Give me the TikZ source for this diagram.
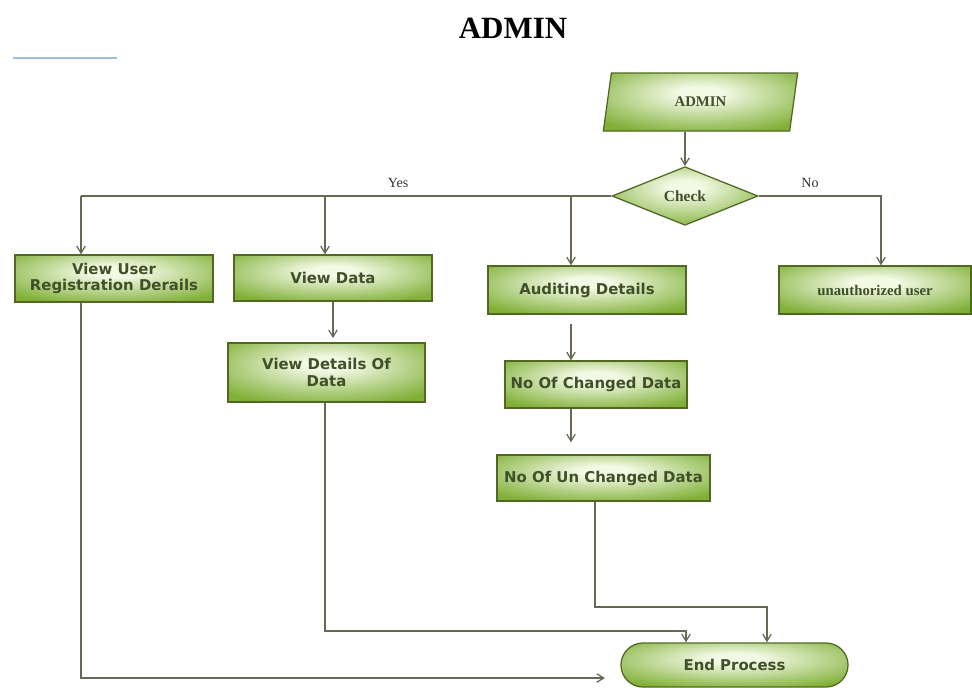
\documentclass[tikz,border=0pt]{standalone}
\usepackage{fontspec}
\setmainfont{Liberation Serif}
\newfontfamily\boxfont{DejaVu Sans}
\usetikzlibrary{shapes.geometric,arrows.meta}

\definecolor{glowin}{RGB}{242,249,228}
\definecolor{glowout}{RGB}{128,176,56}
\definecolor{boxline}{RGB}{82,104,34}
\definecolor{boxtext}{RGB}{64,80,40}
\definecolor{flowline}{RGB}{104,104,84}
\definecolor{topline}{RGB}{160,190,215}

\pgfdeclareradialshading{glow}{\pgfpoint{0bp}{8bp}}{color(0bp)=(glowin); color(6bp)=(glowin); color(34bp)=(glowout); color(100bp)=(glowout)}

\tikzset{
  flowbox/.style={rectangle,draw=boxline,line width=0.9pt,shading=glow,text=boxtext,
    font=\boxfont\bfseries\fontsize{10.6}{11.5}\selectfont,align=center,inner sep=1pt},
  serifbox/.style={font=\bfseries\fontsize{10.5}{12}\selectfont},
  flowlabel/.style={font=\fontsize{10}{12}\selectfont,text=black!80},
  flowjoin/.style={draw=flowline,line width=0.9pt},
  flowarrow/.style={flowjoin,-{Straight Barb[length=5pt,width=6pt]}}
}

\begin{document}
\begin{tikzpicture}[x=0.025cm,y=-0.025cm]
\useasboundingbox (0,0) rectangle (972,687);
% heading
\node[font=\bfseries\fontsize{22}{26}\selectfont](title)at(513,28){ADMIN};
\draw[topline,line width=0.8pt](13,58)--(117,58);

% start and decision
\node[flowbox,serifbox,shape=trapezium,trapezium left angle=79,trapezium right angle=101,
  trapezium stretches=true,minimum width=4.875cm,minimum height=1.45cm](admin)at(700.5,102){ADMIN};
\node[flowbox,serifbox,shape=diamond,minimum width=3.65cm,minimum height=1.4cm,
  font=\bfseries\fontsize{11}{12}\selectfont](check)at(685,196){Check};

% process boxes
\node[flowbox,minimum width=4.95cm,minimum height=1.175cm](reg)at(114,278.5){View User\\Registration Derails};
\node[flowbox,minimum width=4.95cm,minimum height=1.15cm](vdata)at(333,278){View Data};
\node[flowbox,minimum width=4.925cm,minimum height=1.475cm](details)at(326.5,372.5){View Details Of\\Data};
\node[flowbox,minimum width=4.95cm,minimum height=1.2cm](audit)at(587,290){Auditing Details};
\node[flowbox,serifbox,minimum width=4.8cm,minimum height=1.2cm](unauth)at(875,290){unauthorized user};
\node[flowbox,minimum width=4.55cm,minimum height=1.175cm](changed)at(596,384.5){No Of Changed Data};
\node[flowbox,minimum width=5.325cm,minimum height=1.15cm](unchanged)at(603.5,478){No Of Un Changed Data};
\node[flowbox,rounded corners=0.55cm,minimum width=5.675cm,minimum height=1.1cm](end)at(734.5,665){End Process};

% branch labels
\node[flowlabel](yes)at(398,183){Yes};
\node[flowlabel](no)at(810,183){No};

% joints
\coordinate (yes1) at (81,196);
\coordinate (yes2) at (325,196);
\coordinate (yes3) at (571,196);
\coordinate (no1) at (881,196);
\coordinate (end1) at (605,678);
\coordinate (end2) at (686,631);
\coordinate (end3a) at (595,607);
\coordinate (end3b) at (767,607);

% connectors
\draw[flowarrow](check.north |- admin.south)--(check.north);
\draw[flowjoin](check.west)--(yes1);
\draw[flowarrow](yes1)--(yes1 |- reg.north);
\draw[flowarrow](yes2)--(yes2 |- vdata.north);
\draw[flowarrow](yes3)--(yes3 |- audit.north);
\draw[flowarrow](check.east)--(no1)--(no1 |- unauth.north);
\draw[flowarrow,shorten >=3pt](vdata.south)--(vdata.south |- details.north);
\draw[flowarrow,shorten <=0.225cm](audit.south -| yes3)--(yes3 |- changed.north);
\draw[flowarrow,shorten >=0.3cm](changed.south -| yes3)--(yes3 |- unchanged.north);
\draw[flowarrow](yes1 |- reg.south)|-(end1);
\draw[flowarrow](details.south -| yes2)|-(end2)--(end2 |- end.north);
\draw[flowarrow](end3a |- unchanged.south)--(end3a)--(end3b)--(end3b |- end.north);
\end{tikzpicture}
\end{document}
